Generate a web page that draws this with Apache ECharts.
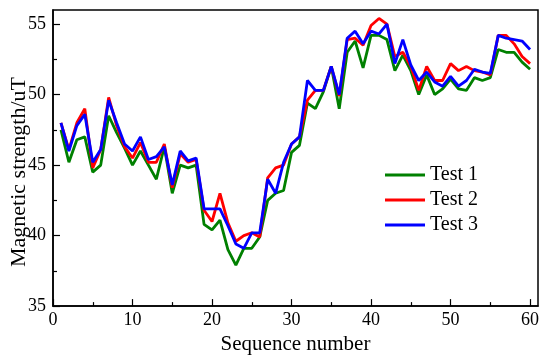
<!DOCTYPE html>
<html>
<head>
<meta charset="utf-8">
<script src="https://cdn.jsdelivr.net/npm/echarts@6/dist/echarts.min.js"></script>
<style>html,body{margin:0;padding:0;background:#fff}#c{width:550px;height:360px}</style>
</head>
<body>
<div id="c"></div>
<script>
const seq = [1,2,3,4,5,6,7,8,9,10,11,12,13,14,15,16,17,18,19,20,21,22,23,24,25,26,27,28,29,30,31,32,33,34,35,36,37,38,39,40,41,42,43,44,45,46,47,48,49,50,51,52,53,54,55,56,57,58,59,60];
const test1 = [47.5,45.2,46.8,47.0,44.5,45.0,48.5,47.3,46.2,45.0,46.0,45.0,44.0,46.3,43.0,45.0,44.8,45.0,40.8,40.4,41.1,39.0,37.9,39.1,39.1,39.9,42.5,43.0,43.2,45.9,46.4,49.4,49.0,50.2,52.0,49.0,53.0,53.8,51.9,54.2,54.2,53.9,51.7,52.8,51.7,50.0,51.4,50.0,50.4,51.1,50.4,50.3,51.2,51.0,51.2,53.2,53.0,53.0,52.3,51.8];
const test2 = [48.0,46.1,48.0,49.0,44.8,46.1,49.8,47.8,46.3,45.5,46.6,45.2,45.2,46.5,43.4,45.8,45.2,45.4,41.8,41.0,43.0,40.9,39.6,40.0,40.2,39.9,44.1,44.8,45.0,46.5,47.0,49.6,50.3,50.3,52.0,49.9,53.9,54.0,53.5,54.9,55.4,55.0,52.7,53.0,52.0,50.3,52.0,51.0,51.0,52.2,51.7,52.0,51.7,51.6,51.4,54.2,54.2,53.6,52.7,52.2];
const test3 = [48.0,46.0,47.8,48.6,45.2,46.1,49.6,48.0,46.5,46.0,47.0,45.4,45.6,46.3,43.6,46.0,45.3,45.5,41.9,41.9,41.9,40.7,39.4,39.1,40.2,40.2,44.0,43.0,45.2,46.5,47.0,51.0,50.3,50.3,52.0,50.0,54.0,54.5,53.6,54.5,54.3,55.0,52.2,53.9,52.1,51.0,51.6,50.9,50.6,51.3,50.6,51.0,51.8,51.6,51.5,54.2,54.0,53.9,53.8,53.2];
const xTicks = [0,10,20,30,40,50,60];
const xMinor = [5,15,25,35,45,55];
const yTicks = [35,40,45,50,55];
const yMinor = [37.5,42.5,47.5,52.5];
const seriesNames = ['Test 1','Test 2','Test 3'];
const colors = ['#008000','#ff0000','#0000ff'];

const FONT = "'Liberation Serif','Times New Roman',serif";
const pair = arr => seq.map((x,i)=>[x,arr[i]]);
const chart = echarts.init(document.getElementById('c'));
const axisLine = {show:true, lineStyle:{color:'#000', width:1.5}};
chart.setOption({
  animation:false,
  backgroundColor:'#fff',
  grid:{left:53, right:12, top:10, bottom:53, show:true, borderColor:'#000', borderWidth:1.5, backgroundColor:'transparent'},
  legend:{
    orient:'vertical', left:380, top:160, itemWidth:40, itemHeight:3, itemGap:5, icon:'rect',
    textStyle:{fontFamily:FONT, fontSize:20, color:'#000'},
    data:seriesNames
  },
  xAxis:[
    {type:'value', min:0, max:61, name:'Sequence number', nameLocation:'middle', nameGap:27,
     nameTextStyle:{fontFamily:FONT, fontSize:21, color:'#000'},
     axisLine:axisLine, splitLine:{show:false},
     axisTick:{inside:true, length:7, customValues:xTicks, lineStyle:{color:'#000', width:1.2}},
     axisLabel:{customValues:xTicks, fontFamily:FONT, fontSize:18, color:'#000', margin:5}},
    {type:'value', min:0, max:61, position:'bottom', axisLine:{show:false}, splitLine:{show:false},
     axisTick:{inside:true, length:4, customValues:xMinor, lineStyle:{color:'#000', width:1.2}},
     axisLabel:{show:false}}
  ],
  yAxis:[
    {type:'value', min:35, max:56,
     axisLine:axisLine, splitLine:{show:false},
     axisTick:{inside:true, length:7, customValues:yTicks, lineStyle:{color:'#000', width:1.2}},
     axisLabel:{customValues:yTicks, fontFamily:FONT, fontSize:18, color:'#000', margin:7}},
    {type:'value', min:35, max:56, position:'left', axisLine:{show:false}, splitLine:{show:false},
     axisTick:{inside:true, length:4, customValues:yMinor, lineStyle:{color:'#000', width:1.2}},
     axisLabel:{show:false}}
  ],
  graphic:[{
    type:'text', x:8, y:172, rotation:Math.PI/2,
    style:{text:'Magnetic strength/uT', font:"22px "+FONT, fill:'#000', textAlign:'center', textVerticalAlign:'top'}
  }],
  series:seriesNames.map((n,k)=>({
    name:n, type:'line', xAxisIndex:0, yAxisIndex:0, showSymbol:false, symbol:'none',
    data:pair([test1,test2,test3][k]),
    lineStyle:{color:colors[k], width:2.8}, itemStyle:{color:colors[k]}
  }))
});
</script>
</body>
</html>
